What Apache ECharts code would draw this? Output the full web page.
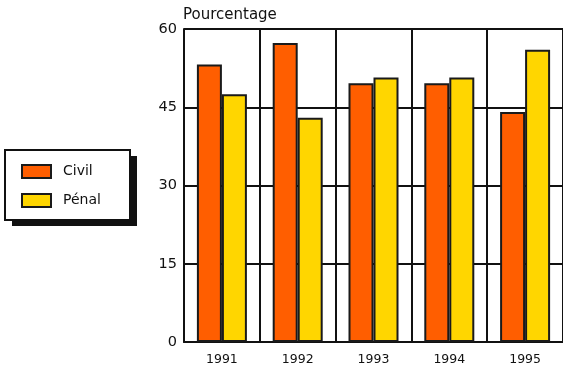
<!DOCTYPE html>
<html>
<head>
<meta charset="utf-8">
<script src="https://cdn.jsdelivr.net/npm/echarts@6/dist/echarts.min.js"></script>
<style>
html,body{margin:0;padding:0;background:#fff;}
#chart{width:563px;height:366px;}
</style>
</head>
<body>
<div id="chart"></div>
<script>
var years = ['1991', '1992', '1993', '1994', '1995'];
var civil = [53.2, 57.3, 49.6, 49.6, 44.1];
var penal = [47.5, 43.0, 50.7, 50.7, 56.0];
var yTicks = [0, 15, 30, 45, 60];
var seriesNames = ['Civil', 'Pénal'];
var yTitle = 'Pourcentage';

var FONT = 'DejaVu Sans';
var chart = echarts.init(document.getElementById('chart'), null, {renderer: 'canvas'});
chart.setOption({
  animation: false,
  backgroundColor: '#ffffff',
  grid: {left: 184, top: 29, width: 380, height: 313, containLabel: false},
  graphic: [
    {type: 'rect', z: 0, shape: {x: 12, y: 156, width: 125, height: 70}, style: {fill: '#111'}},
    {type: 'rect', z: 1, shape: {x: 5, y: 150, width: 125, height: 70}, style: {fill: '#fff', stroke: '#111', lineWidth: 2}}
  ],
  legend: {
    z: 10,
    orient: 'vertical',
    left: 21, top: 164,
    padding: 0,
    itemWidth: 29, itemHeight: 13, itemGap: 14,
    icon: 'rect',
    data: seriesNames,
    textStyle: {fontFamily: FONT, fontSize: 14, color: '#111', padding: [0, 0, 0, 7]}
  },
  xAxis: {
    type: 'category',
    data: years,
    axisLine: {lineStyle: {color: '#111', width: 2}},
    axisTick: {show: false},
    axisLabel: {fontFamily: FONT, fontSize: 12.5, color: '#111', margin: 11},
    splitLine: {show: true, interval: 0, lineStyle: {color: '#111', width: 2}}
  },
  yAxis: {
    type: 'value',
    min: 0, max: 60, interval: 15,
    name: yTitle,
    nameLocation: 'end',
    nameGap: 6,
    nameTextStyle: {fontFamily: FONT, fontSize: 15, color: '#111', align: 'left', padding: [0, 0, 0, -1]},
    axisLine: {show: true, lineStyle: {color: '#111', width: 2}},
    axisTick: {show: false},
    axisLabel: {fontFamily: FONT, fontSize: 14.5, color: '#111', margin: 7,
      formatter: function (v) { return yTicks.indexOf(v) >= 0 ? String(v) : ''; }},
    splitLine: {show: true, lineStyle: {color: '#111', width: 2}}
  },
  series: [
    {name: seriesNames[0], type: 'bar', data: civil, barWidth: 25, barGap: '0%',
      itemStyle: {color: '#FF5E00', borderColor: '#1a1a1a', borderWidth: 2}},
    {name: seriesNames[1], type: 'bar', data: penal, barWidth: 25, barGap: '0%',
      itemStyle: {color: '#FFD600', borderColor: '#1a1a1a', borderWidth: 2}}
  ]
});
</script>
</body>
</html>
